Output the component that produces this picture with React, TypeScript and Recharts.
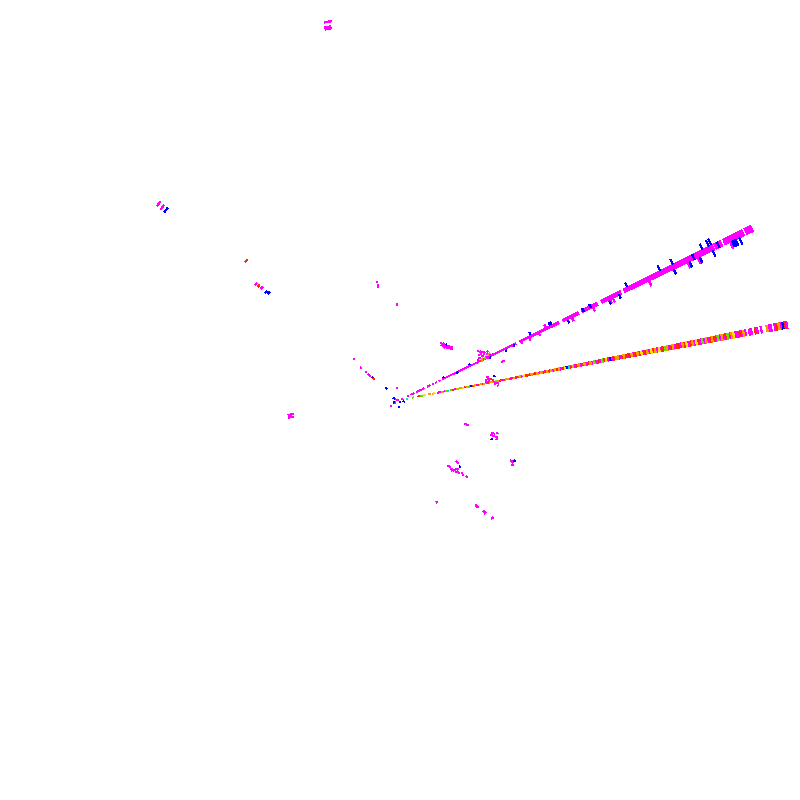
import React from 'react';
import { ScatterChart, Scatter, XAxis, YAxis } from 'recharts';

// polar cells: the two long rays only need radii, everything else is [radius, angle]
const RAY1_ANGLE = 26;
const RAY2_ANGLE = 11;

const ray1Magenta = [
  9, 13, 15, 19, 21, 23, 26, 31, 33, 37, 40, 44, 48, 50, 52, 54, 56, 58, 60, 62, 64, 66, 68, 70, 72, 74, 76, 78, 80, 82,
  84, 86, 88, 90, 92, 94, 96, 98, 100, 102, 104, 106, 108, 110, 112, 114, 116, 118, 120, 122, 124, 126, 128, 134, 136,
  138, 140, 142, 144, 146, 148, 150, 152, 154, 156, 158, 160, 162, 164, 166, 168, 170, 172, 174, 176, 182, 184, 186,
  188, 190, 192, 194, 196, 198, 203, 205, 207, 209, 211, 213, 215, 217, 219, 225, 227, 229, 231, 233, 235, 237, 239,
  241, 243, 245, 250, 252, 254, 256, 258, 260, 262, 264, 266, 268, 270, 272, 274, 276, 278, 280, 282, 284, 286, 288,
  290, 292, 294, 296, 298, 300, 302, 304, 306, 308, 310, 312, 314, 316, 318, 320, 322, 324, 326, 328, 330, 332, 334,
  336, 338, 340, 342, 344, 346, 348, 351, 353, 355, 357, 361, 363, 365, 367, 369, 371, 373, 375, 377, 379, 381, 385,
  387, 389, 391,
];

const ray2Magenta = [
  39, 41, 45, 56, 72, 78, 88, 96, 104, 112, 118, 124, 130, 136, 142, 148, 156, 164, 178, 184, 190, 196, 200, 204, 212,
  216, 224, 232, 238, 248, 254, 262, 266, 274, 280, 286, 294, 300, 306, 310, 314, 322, 326, 330, 336, 342, 344, 348,
  352, 356, 358, 364, 368, 376, 378, 382, 388, 394,
];
const ray2Red = [
  19, 54, 66, 74, 80, 84, 90, 98, 102, 106, 114, 120, 128, 132, 138, 146, 152, 160, 166, 174, 180, 186, 192, 202, 208,
  218, 226, 230, 234, 240, 244, 250, 258, 268, 276, 282, 284, 290, 296, 304, 316, 320, 332, 346, 362, 384, 392,
];
const ray2Orange = [
  30, 34, 43, 58, 62, 68, 76, 82, 86, 92, 94, 100, 108, 110, 116, 122, 134, 140, 144, 150, 154, 158, 162, 176, 182, 188,
  194, 220, 222, 228, 236, 242, 252, 260, 272, 278, 288, 298, 312, 318, 328, 338, 350, 374, 386,
];
const ray2Yellow = [25, 35, 64, 126, 168, 210, 246, 256, 264, 292, 302, 340];
const ray2Green = [13, 22, 47, 52, 60, 70, 198, 206, 270, 308, 324, 334];
const ray2Cyan = [7, 49, 172];
const ray2Blue = [170, 214, 390];

const sideMagenta = [
  [385, 100.8], [380, 101], [378, 100.9], [311, 140.9], [306, 141], [185, 141.1], [178, 141], [120.2, 101], [115, 101],
  [116.5, 101], [95.7, 91.6], [61.6, 138.3], [50.7, 140.8], [44.3, 140.8], [40.5, 140.6], [38.8, 141.3], [12, 103],
  [5, 172], [2.7, 180], [2.5, 23], [10.8, 213.7], [5.7, 208],
  [70.5, 54.4], [69, 52.7], [71, 52.7], [69, 51.3], [71, 51.3], [69, 49.9], [71, 49.9], [70, 48.5], [72, 48.5],
  [71, 47.1], [73, 47.1], [72, 45.7], [74, 45.7], [73, 44.3],
  [92.1, 32.1], [93.3, 31], [95, 30.3], [93.2, 29.6], [95.8, 28.7], [98.4, 27.9], [100.6, 26.6], [103.8, 26.3],
  [94, 27.9], [96.2, 26.6], [97.5, 25.5], [87.7, 27.2], [86.8, 26], [89, 26], [92.1, 25.7], [94.3, 25.7], [85.4, 25.7],
  [91, 29.6], [93, 28.2], [90, 27.9], [100, 29], [97, 29.6], [109.2, 20.5], [111, 20.5],
  [90.5, 14.6], [90.5, 13.2], [90.5, 11.8], [88.5, 13.2], [88.5, 11.8], [99, 9.8], [99, 8.4], [96.5, 9.8],
  [69.6, -20.2], [72, -20.2], [98, -21], [100, -21], [102, -21], [104, -21], [98, -19.6], [100, -19.6], [103, -18.9],
  [104.3, -22], [128.5, -28.7], [126.5, -28.7], [130, -30], [83.8, -47.4], [85.5, -47.4], [81.8, -53.8], [85, -53.4],
  [83, -53.4], [88.5, -53], [86.5, -53], [91, -52], [89, -52], [94.1, -51.2], [92, -51.2], [98.1, -49.8], [96, -49.8],
  [101.6, -49], [88.9, -51.2], [87, -53.6], [90, -50], [108.7, -70.3], [130, -54.1], [132, -54.1], [139.5, -53],
  [141.5, -53], [149.8, -52], [110.3, 189], [108.3, 189], [112.3, 189], [110.3, 187.6], [108.3, 187.6], [112.3, 187.6],
  [276, 24.9], [319, 25], [330, 25], [233, 25.2], [236, 25], [366, 25], [143.5, 25], [154, 25.2], [162.8, 27], [214, 25],
  [190.6, 25], [134.5, 25.2],
];
const sideBlue = [
  [301.4, 140.9], [172, 141.1], [169.4, 140.8], [35.5, 140.3], [18, 139.5], [6.5, 165], [1.7, 270], [4, 338], [6.4, 201],
  [7.3, 265], [72.4, 50.3], [116.9, 24.9], [99.4, 25.2], [78, 27.3], [48.9, 27.6], [63.5, 25.5], [97.3, 14.3], [72.4, 11.4],
  [99.9, -23], [129.7, -28], [89.7, -48],
  [253.7, 27], [243, 25.2], [231.6, 24.9], [290.6, 27], [304.9, 27], [303.3, 25], [320.8, 25], [326.4, 26], [332, 24.9],
  [337.8, 27], [345, 27], [347.8, 27.1], [354, 26], [346.6, 25], [368, 25.1], [370, 25.1], [372, 25.1], [376, 25],
  [169, 27], [167.5, 27], [146, 27.2], [186, 24.9], [204, 26.2], [212, 26.3], [126.3, 25.5],
];
const sideRed = [[207.5, 137.9], [181.7, 141], [33.9, 141], [89.9, 25.7], [94.8, 12.2], [92.8, 13.2]];
const sideOrange = [[90.8, 25.4], [98.8, 27.1], [100.8, 27.6], [92, 26.7]];
const sideGreen = [[94.7, 26.1], [98, 11]];

const alongRay = (radii: number[], angle: number) => radii.map((r) => [r, angle]);

const toPoints = (cells: number[][]) =>
  cells.map(([r, a]) => ({
    r,
    a,
    x: r * Math.cos((a * Math.PI) / 180),
    y: r * Math.sin((a * Math.PI) / 180),
  }));

const magentaCells = [...alongRay(ray1Magenta, RAY1_ANGLE), ...alongRay(ray2Magenta, RAY2_ANGLE), ...sideMagenta];
const blueCells = [...alongRay(ray2Blue, RAY2_ANGLE), ...sideBlue];
const redCells = [...alongRay(ray2Red, RAY2_ANGLE), ...sideRed];
const orangeCells = [...alongRay(ray2Orange, RAY2_ANGLE), ...sideOrange];
const yellowCells = alongRay(ray2Yellow, RAY2_ANGLE);
const greenCells = [...alongRay(ray2Green, RAY2_ANGLE), ...sideGreen];
const cyanCells = alongRay(ray2Cyan, RAY2_ANGLE);

// one polar bin: fixed radial thickness, tangential width grows with the radius
const PolarCell = (props: any) => {
  const { cx, cy, fill, payload } = props;
  const rad = (payload.a * Math.PI) / 180;
  const ux = Math.cos(rad);
  const uy = -Math.sin(rad);
  const vx = -uy;
  const vy = ux;
  const dr = 1.2;
  const dt = Math.max(1, payload.r * 0.0102);
  const pts = [
    [cx + ux * dr + vx * dt, cy + uy * dr + vy * dt],
    [cx + ux * dr - vx * dt, cy + uy * dr - vy * dt],
    [cx - ux * dr - vx * dt, cy - uy * dr - vy * dt],
    [cx - ux * dr + vx * dt, cy - uy * dr + vy * dt],
  ];
  return <polygon points={pts.map((p) => p.join(',')).join(' ')} fill={fill} shapeRendering="crispEdges" />;
};

const App: React.FC = () => {
  return (
    <div style={{ margin: -8, width: 800, height: 800, background: '#fff' }}>
      <ScatterChart width={800} height={800} margin={{ top: 0, right: 0, bottom: 0, left: 0 }}>
        <XAxis type="number" dataKey="x" domain={[-400, 400]} hide />
        <YAxis type="number" dataKey="y" domain={[-400, 400]} hide />
        <Scatter data={toPoints(magentaCells)} fill="#ff00ff" shape={PolarCell} isAnimationActive={false} />
        <Scatter data={toPoints(redCells)} fill="#ff2a00" shape={PolarCell} isAnimationActive={false} />
        <Scatter data={toPoints(orangeCells)} fill="#ff9a00" shape={PolarCell} isAnimationActive={false} />
        <Scatter data={toPoints(yellowCells)} fill="#ffe000" shape={PolarCell} isAnimationActive={false} />
        <Scatter data={toPoints(greenCells)} fill="#66e000" shape={PolarCell} isAnimationActive={false} />
        <Scatter data={toPoints(cyanCells)} fill="#00e0e0" shape={PolarCell} isAnimationActive={false} />
        <Scatter data={toPoints(blueCells)} fill="#0000ff" shape={PolarCell} isAnimationActive={false} />
      </ScatterChart>
    </div>
  );
};

export default App;
